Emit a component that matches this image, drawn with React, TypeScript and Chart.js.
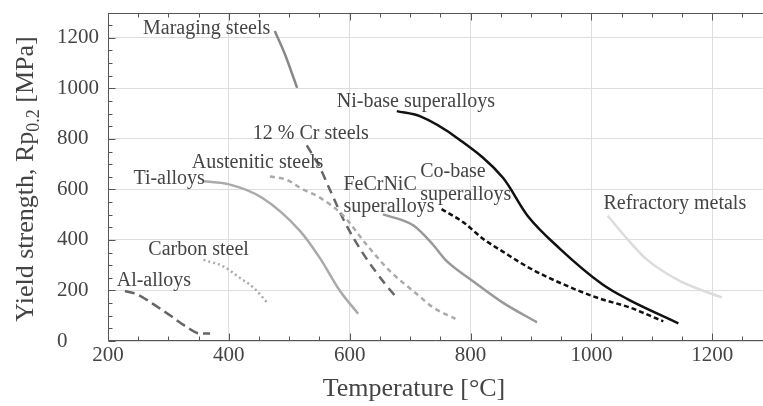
import React, { useEffect, useRef } from "react";
import { Chart, registerables } from "chart.js";

Chart.register(...registerables);

// ---- Data (temperature in °C, yield strength in MPa) ----
const alAlloysT = [228, 248, 275, 303, 330, 352, 369];
const alAlloysS = [198, 185, 146, 101, 56, 30, 30];

const carbonSteelT = [358, 391, 418, 441, 463];
const carbonSteelS = [321, 295, 250, 211, 153];

const tiAlloysT = [358, 399, 455, 518, 551, 584, 614];
const tiAlloysS = [632, 621, 567, 435, 327, 198, 108];

const austeniticT = [468, 496, 518, 551, 589, 628, 667, 711, 738, 775];
const austeniticS = [651, 638, 606, 567, 497, 381, 276, 186, 133, 88];

const crSteelT = [529, 550, 567, 592, 622, 655, 675];
const crSteelS = [774, 690, 600, 470, 347, 237, 179];

const maragingT = [476, 492, 513];
const maragingS = [1227, 1140, 1002];

const feCrNiCT = [655, 705, 738, 758, 804, 854, 910];
const feCrNiCS = [501, 458, 381, 322, 237, 151, 74];

const niBaseT = [678, 717, 780, 854, 894, 948, 1018, 1059, 1144];
const niBaseS = [910, 889, 800, 645, 497, 365, 225, 167, 70];

const coBaseT = [752, 788, 821, 854, 899, 953, 1010, 1064, 1119];
const coBaseS = [522, 470, 404, 353, 287, 225, 171, 132, 78];

const refractoryT = [1027, 1059, 1092, 1147, 1216];
const refractoryS = [496, 405, 322, 237, 172];

const xMajorTicks = [200, 400, 600, 800, 1000, 1200];
const yMajorTicks = [0, 200, 400, 600, 800, 1000, 1200];

// annotation labels (text, anchor temperature, anchor strength at baseline)
const labelTexts = [
  "Maraging steels",
  "Ni-base superalloys",
  "12 % Cr steels",
  "Austenitic steels",
  "Ti-alloys",
  "FeCrNiC",
  "superalloys",
  "Co-base",
  "superalloys",
  "Refractory metals",
  "Carbon steel",
  "Al-alloys",
];
const labelT = [258, 578.6, 439.6, 338.6, 242, 589.6, 589.6, 716.6, 716.6, 1020, 266.7, 214.4];
const labelS = [1216, 925, 800, 683.5, 622.5, 597, 509, 651, 560, 524, 340.6, 217.5];

const FONT = '"Liberation Serif", "Times New Roman", serif';
const TEXT_COLOR = "#444";

function pts(t: number[], s: number[]) {
  return t.map((v, i) => ({ x: v, y: s[i] }));
}

const overlayPlugin = {
  id: "overlay",
  afterDraw(chart: any) {
    const ctx: CanvasRenderingContext2D = chart.ctx;
    const { left, right, top, bottom } = chart.chartArea;
    const xs = chart.scales.x;
    const ys = chart.scales.y;
    ctx.save();
    // frame (left, bottom, top)
    ctx.strokeStyle = "#555";
    ctx.lineWidth = 1;
    const L = Math.round(left) + 0.5;
    const B = Math.round(bottom) - 0.5;
    const T = Math.round(top) + 0.5;
    ctx.beginPath();
    ctx.moveTo(L, T);
    ctx.lineTo(L, B);
    ctx.lineTo(right, B);
    ctx.moveTo(L, T);
    ctx.lineTo(right, T);
    ctx.stroke();
    // ticks
    ctx.beginPath();
    for (let v = 200; v <= 1284; v += 50) {
      const px = Math.round(xs.getPixelForValue(v)) + 0.5;
      const len = v % 200 === 0 ? 7 : 4;
      ctx.moveTo(px, B);
      ctx.lineTo(px, B - len);
      ctx.moveTo(px, T);
      ctx.lineTo(px, T + len);
    }
    for (let v = 0; v <= 1300; v += 50) {
      const py = Math.round(ys.getPixelForValue(v)) + 0.5;
      const len = v % 200 === 0 ? 7 : 4;
      ctx.moveTo(L, py);
      ctx.lineTo(L + len, py);
    }
    ctx.stroke();

    // annotations
    ctx.fillStyle = TEXT_COLOR;
    ctx.font = `20px ${FONT}`;
    ctx.textAlign = "left";
    ctx.textBaseline = "alphabetic";
    labelTexts.forEach((txt, i) => {
      ctx.fillText(txt, xs.getPixelForValue(labelT[i]), ys.getPixelForValue(labelS[i]));
    });

    // x axis title
    ctx.font = `26px ${FONT}`;
    ctx.textAlign = "center";
    ctx.fillText("Temperature [°C]", 414, 396);

    // y axis title with subscript
    const mainFont = `26px ${FONT}`;
    const subFont = `18px ${FONT}`;
    const p1 = "Yield strength, Rp";
    const p2 = "0.2";
    const p3 = " [MPa]";
    ctx.font = mainFont;
    const w1 = ctx.measureText(p1).width;
    const w3 = ctx.measureText(p3).width;
    ctx.font = subFont;
    const w2 = ctx.measureText(p2).width;
    const total = w1 + w2 + w3;
    ctx.translate(33, 179);
    ctx.rotate(-Math.PI / 2);
    ctx.textAlign = "left";
    let x0 = -total / 2;
    ctx.font = mainFont;
    ctx.fillText(p1, x0, 0);
    x0 += w1;
    ctx.font = subFont;
    ctx.fillText(p2, x0, 6);
    x0 += w2;
    ctx.font = mainFont;
    ctx.fillText(p3, x0, 0);
    ctx.restore();
  },
};

export default function App() {
  const ref = useRef<HTMLCanvasElement | null>(null);
  useEffect(() => {
    if (!ref.current) return;
    const mk = (data: any[], color: string, dash: number[] = []) => ({
      data,
      borderColor: color,
      backgroundColor: color,
      borderWidth: 2.5,
      borderDash: dash,
      pointRadius: 0,
      cubicInterpolationMode: "monotone",
      fill: false,
    });
    const chart = new Chart(ref.current, {
      type: "line",
      data: {
        datasets: [
          { label: "Refractory metals", ...mk(pts(refractoryT, refractoryS), "#dcdcdc") },
          { label: "Ti-alloys", ...mk(pts(tiAlloysT, tiAlloysS), "#aaaaaa") },
          { label: "Carbon steel", ...mk(pts(carbonSteelT, carbonSteelS), "#aaaaaa", [2, 3]) },
          { label: "Austenitic steels", ...mk(pts(austeniticT, austeniticS), "#aaaaaa", [5, 4]) },
          { label: "FeCrNiC superalloys", ...mk(pts(feCrNiCT, feCrNiCS), "#999999") },
          { label: "Maraging steels", ...mk(pts(maragingT, maragingS), "#888888") },
          { label: "Al-alloys", ...mk(pts(alAlloysT, alAlloysS), "#666666", [10, 5]) },
          { label: "12 % Cr steels", ...mk(pts(crSteelT, crSteelS), "#666666", [9, 6]) },
          { label: "Co-base superalloys", ...mk(pts(coBaseT, coBaseS), "#111111", [5, 3]) },
          { label: "Ni-base superalloys", ...mk(pts(niBaseT, niBaseS), "#111111") },
        ],
      },
      options: {
        animation: false,
        responsive: true,
        maintainAspectRatio: false,
        layout: { padding: { left: 57, top: 6, right: 0, bottom: 0 } },
        plugins: {
          legend: { display: false },
          tooltip: { enabled: false },
          title: { display: false },
        },
        scales: {
          x: {
            type: "linear",
            min: 200,
            max: 1284,
            afterBuildTicks: (s: any) => {
              s.ticks = xMajorTicks.map((v) => ({ value: v }));
            },
            afterFit: (s: any) => {
              s.height = 65;
            },
            grid: { color: "#dddddd", lineWidth: 1, drawTicks: false },
            border: { display: false },
            ticks: {
              font: { family: FONT, size: 21 },
              color: TEXT_COLOR,
              padding: 2,
              maxRotation: 0,
              autoSkip: false,
              callback: (v: any) => String(v),
            },
          },
          y: {
            type: "linear",
            min: 0,
            max: 1300,
            afterBuildTicks: (s: any) => {
              s.ticks = yMajorTicks.map((v) => ({ value: v }));
            },
            afterFit: (s: any) => {
              s.width = 51;
            },
            grid: { color: "#dddddd", lineWidth: 1, drawTicks: false },
            border: { display: false },
            ticks: {
              font: { family: FONT, size: 21 },
              color: TEXT_COLOR,
              padding: 0,
              crossAlign: "far",
              autoSkip: false,
              callback: (v: any) => String(v),
            },
          },
        },
      },
      plugins: [overlayPlugin],
    } as any);
    return () => chart.destroy();
  }, []);

  return (
    <div
      style={{
        position: "fixed",
        left: 0,
        top: 0,
        width: 763,
        height: 406,
        background: "#fff",
      }}
    >
      <canvas ref={ref} />
    </div>
  );
}
